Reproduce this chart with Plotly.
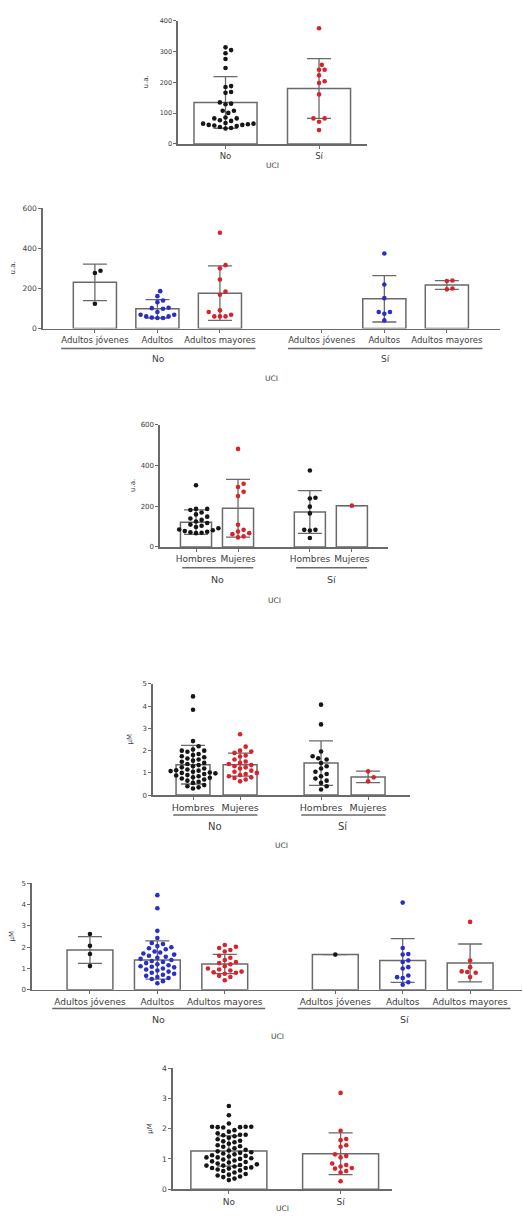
import plotly.graph_objects as go

W, H = 523, 1220

# ---------------- DATA ----------------
# Panel 1: u.a. by UCI
p1_cats = ["No", "Sí"]
p1_no = [314, 305, 295, 276, 247, 188, 185, 169, 166, 135, 131, 129, 108, 108, 101,
         86, 83, 83, 77, 75, 68, 66, 64, 62, 60, 58, 55, 52, 50, 62, 66]
p1_si = [376, 257, 241, 241, 223, 204, 198, 161, 83, 83, 72, 45]
p1_mean = [135, 180]
p1_sd = [84, 97]

# Panel 2: u.a. by age group and UCI
p2_cats = ["Adultos jóvenes", "Adultos", "Adultos mayores",
           "Adultos jóvenes", "Adultos", "Adultos mayores"]
p2_groups = ["No", "Sí"]
p2_no_aj = [289, 278, 124]
p2_no_ad = [187, 162, 140, 132, 104, 99, 102, 83, 69, 61, 53, 53, 55, 61, 69]
p2_no_am = [479, 317, 301, 245, 185, 169, 91, 83, 61, 61, 61, 69]
p2_si_aj = []
p2_si_ad = [375, 220, 152, 83, 83, 74, 41]
p2_si_am = [240, 238, 200, 196]
p2_mean = [231, 99, 177, None, 149, 218]
p2_sd = [91, 46, 136, None, 116, 22]

# Panel 3: u.a. by sex and UCI
p3_cats = ["Hombres", "Mujeres", "Hombres", "Mujeres"]
p3_groups = ["No", "Sí"]
p3_no_h = [303, 187, 187, 182, 169, 160, 149, 140, 133, 125, 118, 110, 104, 98, 92, 86,
           82, 78, 75, 72, 70, 68]
p3_no_m = [482, 311, 295, 271, 250, 109, 84, 76, 68, 63, 52, 47]
p3_si_h = [376, 242, 238, 198, 165, 84, 84, 81, 44]
p3_si_m = [203]
p3_mean = [122, 190, 172, 203]
p3_sd = [60, 142, 105, None]

# Panel 4: µM by sex and UCI
p4_cats = ["Hombres", "Mujeres", "Hombres", "Mujeres"]
p4_groups = ["No", "Sí"]
p4_no_h = [4.44, 3.84, 2.43, 2.2, 2.05, 2.0, 2.0, 1.95, 1.85, 1.8, 1.75, 1.7, 1.65, 1.6,
           1.55, 1.5, 1.45, 1.4, 1.35, 1.3, 1.25, 1.2, 1.15, 1.12, 1.1, 1.08, 1.05, 1.02,
           1.0, 0.98, 0.95, 0.9, 0.88, 0.85, 0.8, 0.78, 0.75, 0.7, 0.65, 0.6, 0.55, 0.45,
           0.4, 0.35, 0.3]
p4_no_m = [2.74, 2.18, 2.0, 1.96, 1.9, 1.78, 1.74, 1.6, 1.51, 1.45, 1.4, 1.35, 1.3, 1.25,
           1.2, 1.1, 1.05, 1.0, 0.95, 0.9, 0.85, 0.8, 0.77, 0.7, 0.62]
p4_si_h = [4.07, 3.18, 1.96, 1.75, 1.66, 1.6, 1.44, 1.3, 1.2, 1.05, 0.95, 0.85, 0.75,
           0.65, 0.55, 0.4, 0.25]
p4_si_m = [1.07, 0.8, 0.62]
p4_mean = [1.37, 1.37, 1.44, 0.82]
p4_sd = [0.87, 0.52, 1.0, 0.26]

# Panel 5: µM by age group and UCI
p5_cats = ["Adultos jóvenes", "Adultos", "Adultos mayores",
           "Adultos jóvenes", "Adultos", "Adultos mayores"]
p5_groups = ["No", "Sí"]
p5_no_aj = [2.62, 2.07, 1.68, 1.11]
p5_no_ad = [4.45, 3.83, 2.77, 2.43, 2.2, 2.15, 2.05, 2.0, 1.95, 1.9, 1.8, 1.75, 1.7, 1.65,
            1.6, 1.55, 1.5, 1.45, 1.4, 1.35, 1.3, 1.25, 1.2, 1.15, 1.1, 1.08, 1.05, 1.0,
            0.95, 0.9, 0.85, 0.8, 0.75, 0.7, 0.65, 0.6, 0.55, 0.5, 0.4, 0.3]
p5_no_am = [2.1, 2.02, 1.96, 1.87, 1.8, 1.6, 1.5, 1.4, 1.3, 1.25, 1.2, 1.1, 1.0, 0.95,
            0.9, 0.85, 0.82, 0.8, 0.75, 0.65, 0.6, 0.44]
p5_si_aj = [1.65]
p5_si_ad = [4.1, 1.96, 1.68, 1.65, 1.37, 1.3, 1.06, 1.0, 0.67, 0.59, 0.55, 0.35, 0.23]
p5_si_am = [3.19, 1.37, 1.06, 0.86, 0.83, 0.8, 0.6]
p5_mean = [1.87, 1.40, 1.21, 1.65, 1.37, 1.26]
p5_sd = [0.63, 0.9, 0.45, None, 1.03, 0.89]

# Panel 6: µM by UCI
p6_cats = ["No", "Sí"]
p6_no = [2.75, 2.44, 2.17, 2.06, 2.06, 2.06, 2.05, 2.05, 2.04, 1.95, 1.9, 1.85, 1.8, 1.8,
         1.78, 1.75, 1.7, 1.65, 1.6, 1.58, 1.55, 1.5, 1.45, 1.42, 1.4, 1.35, 1.3, 1.28,
         1.25, 1.22, 1.2, 1.18, 1.15, 1.12, 1.1, 1.08, 1.05, 1.05, 1.02, 1.0, 0.98, 0.95,
         0.92, 0.9, 0.88, 0.85, 0.82, 0.8, 0.78, 0.78, 0.75, 0.72, 0.7, 0.7, 0.68, 0.65,
         0.62, 0.6, 0.55, 0.5, 0.48, 0.45, 0.42, 0.4, 0.35, 0.3]
p6_si = [3.18, 1.93, 1.66, 1.62, 1.45, 1.4, 1.15, 1.1, 1.05, 0.85, 0.8, 0.75, 0.7, 0.68,
         0.6, 0.55, 0.26]
p6_mean = [1.26, 1.17]
p6_sd = [0.5, 0.69]

# ---------------- STYLE ----------------
BLACK, RED, BLUE = "#161616", "#d8232a", "#2a2ec8"
GREY = "#6a6a6a"
TXT = "#3c3c3c"
FONT = "DejaVu Sans"

panels = [
    dict(cats=p1_cats, vals=[p1_no, p1_si], means=p1_mean, sds=p1_sd, cols=[BLACK, RED],
         pos=[0, 1], xr=(-0.508, 1.513), x0=178, x1=367, ytop=17, ybot=141, ymax=400,
         dtick=100, bw=0.674, ytitle="u.a.", ytx=146, tfs=6.5, cfs=8.5, groups=None,
         uci_y=163, afs=7.5),
    dict(cats=p2_cats, vals=[p2_no_aj, p2_no_ad, p2_no_am, p2_si_aj, p2_si_ad, p2_si_am],
         means=p2_mean, sds=p2_sd, cols=[BLACK, BLUE, RED, BLACK, BLUE, RED],
         pos=[0, 1, 2, 3.63, 4.63, 5.63], xr=(-0.83, 6.48), x0=43, x1=500, ytop=206,
         ybot=327, ymax=600, dtick=200, bw=0.69, ytitle="u.a.", ytx=13, tfs=7.5, cfs=8.5,
         groups=(p2_groups, [(0, 2), (3, 5)], -0.54, 0.57, 347, 358), uci_y=377, afs=7.5),
    dict(cats=p3_cats, vals=[p3_no_h, p3_no_m, p3_si_h, p3_si_m], means=p3_mean, sds=p3_sd,
         cols=[BLACK, RED, BLACK, RED], pos=[0, 1, 2.71, 3.71], xr=(-0.857, 4.57),
         x0=160, x1=388, ytop=424, ybot=547, ymax=600, dtick=200, bw=0.74, ytitle="u.a.",
         ytx=133, tfs=7, cfs=9, groups=(p3_groups, [(0, 1), (2, 3)], -0.33, 0.36, 568, 580),
         uci_y=601, afs=7.5),
    dict(cats=p4_cats, vals=[p4_no_h, p4_no_m, p4_si_h, p4_si_m], means=p4_mean, sds=p4_sd,
         cols=[BLACK, RED, BLACK, RED], pos=[0, 1, 2.72, 3.72], xr=(-0.85, 4.61),
         x0=153, x1=410, ytop=685, ybot=797, ymax=5, dtick=1, bw=0.72, ytitle="µM",
         ytx=130, tfs=7, cfs=9.5, groups=(p4_groups, [(0, 1), (2, 3)], -0.42, 0.37, 817, 829),
         uci_y=848, afs=7.5),
    dict(cats=p5_cats, vals=[p5_no_aj, p5_no_ad, p5_no_am, p5_si_aj, p5_si_ad, p5_si_am],
         means=p5_mean, sds=p5_sd, cols=[BLACK, BLUE, RED, BLACK, BLUE, RED],
         pos=[0, 1, 2, 3.64, 4.64, 5.64], xr=(-0.86, 6.41), x0=32, x1=522, ytop=886,
         ybot=993, ymax=5, dtick=1, bw=0.68, ytitle="µM", ytx=12, tfs=7, cfs=9,
         groups=(p5_groups, [(0, 2), (3, 5)], -0.56, 0.6, 1012, 1023), uci_y=1040, afs=7.5),
    dict(cats=p6_cats, vals=[p6_no, p6_si], means=p6_mean, sds=p6_sd, cols=[BLACK, RED],
         pos=[0, 1], xr=(-0.50, 1.46), x0=173, x1=392, ytop=1072, ybot=1194, ymax=4,
         dtick=1, bw=0.68, ytitle="µM", ytx=150, tfs=7.5, cfs=9, groups=None,
         uci_y=1213, afs=7.5),
]


def swarm(vals, ppu_y, ppu_x, d=5.6, step=0.5):
    placed = []
    offs = [0.0] * len(vals)
    order = sorted(range(len(vals)), key=lambda i: vals[i])
    for i in order:
        y = vals[i] * ppu_y
        k = 0
        while True:
            cands = [0.0] if k == 0 else [k * step * d, -k * step * d]
            done = False
            for c in cands:
                if all((c - px) ** 2 + (y - py) ** 2 >= d * d * 0.92 for px, py in placed):
                    placed.append((c, y))
                    offs[i] = c / ppu_x
                    done = True
                    break
            if done:
                break
            k += 1
    return offs


fig = go.Figure()
layout = dict(width=W, height=H, margin=dict(l=0, r=0, t=0, b=0),
              paper_bgcolor="white", plot_bgcolor="white", showlegend=False,
              font=dict(family=FONT, color=TXT), bargap=0)
annotations, shapes = [], []

for n, p in enumerate(panels, start=1):
    xa = "x" if n == 1 else f"x{n}"
    ya = "y" if n == 1 else f"y{n}"
    pos = p["pos"]
    xr_left, xr_right = p["xr"]
    ppu_x = (p["x1"] - p["x0"]) / (xr_right - xr_left)
    ppu_y = (p["ybot"] - p["ytop"]) / p["ymax"]

    fig.add_trace(go.Bar(
        x=pos, y=p["means"], width=p["bw"],
        marker=dict(color="white", line=dict(color=GREY, width=1.5)),
        error_y=dict(type="data", array=p["sds"], symmetric=True, color=GREY,
                     thickness=1.3, width=12),
        xaxis=xa, yaxis=ya, hoverinfo="skip"))

    for ci, vals in enumerate(p["vals"]):
        if not vals:
            continue
        offs = swarm(vals, ppu_y, ppu_x)
        fig.add_trace(go.Scatter(
            x=[pos[ci] + o for o in offs], y=vals, mode="markers",
            marker=dict(size=4.6, color=p["cols"][ci], line=dict(width=0)),
            xaxis=xa, yaxis=ya, hoverinfo="skip"))

    xkey = "xaxis" if n == 1 else f"xaxis{n}"
    ykey = "yaxis" if n == 1 else f"yaxis{n}"
    layout[xkey] = dict(
        domain=[p["x0"] / W, p["x1"] / W], range=[xr_left, xr_right], anchor=ya,
        showgrid=False, zeroline=False, showline=True, linecolor=GREY, linewidth=1.6,
        ticks="outside", ticklen=3, tickwidth=1, tickcolor=GREY,
        tickvals=pos, ticktext=p["cats"], tickfont=dict(size=p["cfs"], color=TXT, family=FONT),
        fixedrange=True)
    layout[ykey] = dict(
        domain=[1 - p["ybot"] / H, 1 - p["ytop"] / H], range=[0, p["ymax"]], anchor=xa,
        showgrid=False, zeroline=False, showline=True, linecolor=GREY, linewidth=1.6,
        ticks="outside", ticklen=3, tickwidth=1, tickcolor=GREY,
        tick0=0, dtick=p["dtick"], tickfont=dict(size=p["tfs"], color=TXT, family=FONT),
        fixedrange=True)

    annotations.append(dict(
        text="UCI", xref="paper", yref="paper", x=(p["x0"] + p["x1"]) / 2 / W,
        y=1 - p["uci_y"] / H, showarrow=False, xanchor="center", yanchor="middle",
        font=dict(size=p["afs"], color=TXT, family=FONT)))
    annotations.append(dict(
        text=p["ytitle"], xref="paper", yref="paper", x=p["ytx"] / W,
        y=1 - (p["ytop"] + p["ybot"]) / 2 / H, showarrow=False, textangle=-90,
        xanchor="center", yanchor="middle",
        font=dict(size=7, color=TXT, family=FONT)))

    if p["groups"]:
        names, idx, lpad, rpad, line_y, lab_y = p["groups"]
        for gname, (a, b) in zip(names, idx):
            xs, xe = pos[a] + lpad, pos[b] + rpad
            shapes.append(dict(type="line", xref=xa, yref="paper", x0=xs, x1=xe,
                               y0=1 - line_y / H, y1=1 - line_y / H,
                               line=dict(color=GREY, width=1.4)))
            annotations.append(dict(
                text=gname, xref=xa, yref="paper", x=(xs + xe) / 2, y=1 - lab_y / H,
                showarrow=False, xanchor="center", yanchor="middle",
                font=dict(size=p["cfs"] + 0.5, color=TXT, family=FONT)))

layout["annotations"] = annotations
layout["shapes"] = shapes
fig.update_layout(**layout)
fig.write_html("out.html", config={"displayModeBar": False, "staticPlot": True},
               post_script="document.body.style.margin='0px';document.body.style.overflow='hidden';")
